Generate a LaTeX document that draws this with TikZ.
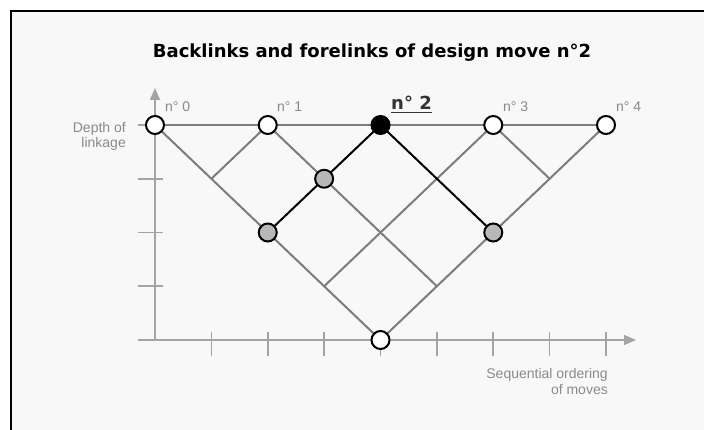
\documentclass[tikz,border=0pt]{standalone}
\usepackage{fontspec}
\setmainfont{Liberation Sans}
\newfontfamily\headfont{DejaVu Sans}
\usetikzlibrary{arrows.meta}
\definecolor{bggray}{HTML}{F8F8F8}
\definecolor{latgray}{HTML}{7C7C7C}
\definecolor{axgray}{HTML}{A4A4A4}
\definecolor{labgray}{HTML}{8A8A8A}
\definecolor{nodegray}{HTML}{B8B8B8}
\definecolor{headgray}{HTML}{333333}
\pgfdeclarelayer{back}
\pgfdeclarelayer{links}
\pgfsetlayers{back,links,main}
\begin{document}
\begin{tikzpicture}[x=1pt,y=-1pt,
  lattice/.style={draw=latgray,line width=2pt},
  hilite/.style={draw=black,line width=2pt},
  axisline/.style={draw=axgray,line width=1.6pt},
  tickmark/.style={draw=axgray,line width=1.6pt},
  move/.style={circle,draw=black,line width=2pt,fill=white,minimum size=18pt,inner sep=0pt},
  linked/.style={move,fill=nodegray},
  current/.style={move,fill=black},
  movelabel/.style={anchor=base west,inner sep=0pt,text=labgray,font=\fontsize{14}{16}\selectfont},
  axislabel/.style={anchor=base east,inner sep=0pt,text=labgray,font=\fontsize{14}{16}\selectfont},
  arrowtip/.style={-{Triangle[length=12pt,width=10pt]}}]
\useasboundingbox (0,0) rectangle (704,430);
\clip (0,0) rectangle (704,430);

% sheet and frame
\begin{pgfonlayer}{back}
  \fill[white] (0,0) rectangle (704,430);
  \filldraw[fill=bggray,draw=black,line width=2pt] (11,11) rectangle (740,460);
\end{pgfonlayer}

% title
\node[anchor=base,inner sep=0pt,font=\headfont\bfseries\fontsize{18}{22}\selectfont] (title)
  at (372,58) {Backlinks and forelinks of design move n°2};

% design moves along the top row
\node[move]    (n0) at (155,125) {};
\node[move]    (n1) at (267.75,125) {};
\node[current] (n2) at (380.5,125) {};
\node[move]    (n3) at (493.25,125) {};
\node[move]    (n4) at (606,125) {};

% link points (midpoint of two moves, depth = distance)
\coordinate (l01) at (211.375,178.75);
\coordinate (l03) at (324.125,286.25);
\coordinate (l14) at (436.875,286.25);
\coordinate (l34) at (549.625,178.75);
\node[linked] (l12) at (324.125,178.75) {};
\node[linked] (l02) at (267.75,232.5) {};
\node[linked] (l24) at (493.25,232.5) {};
\node[move]   (l04) at (380.5,340) {};

% axes
\coordinate (yfoot) at (155,340);
\coordinate (ytip)  at (155,88);
\coordinate (xfoot) at (138,340);
\coordinate (xtip)  at (636,340);

\begin{pgfonlayer}{links}
  \draw[axisline,arrowtip,draw=axgray,fill=axgray] (yfoot) -- (ytip);
  \draw[axisline,arrowtip,draw=axgray,fill=axgray] (xfoot) -- (xtip);
  \foreach \ty in {125,178.75,232.5,286.25}
    \draw[tickmark] (138,\ty) -- (163,\ty);
  \foreach \tx in {211.375,267.75,324.125,380.5,436.875,493.25,549.625,606}
    \draw[tickmark] (\tx,332) -- (\tx,356);

  % top row
  \draw[lattice] (n0) -- (n4);
  % forelinks (down-right)
  \draw[lattice] (n0.center) -- (l04);
  \draw[lattice] (n1) -- (l14);
  \draw[lattice] (n3) -- (l34);
  % backlinks (down-left)
  \draw[lattice] (n4.center) -- (l04);
  \draw[lattice] (n3) -- (l03);
  \draw[lattice] (n1) -- (l01);
  % links of move 2
  \draw[hilite] (n2) -- (l02);
  \draw[hilite] (n2) -- (l24);
\end{pgfonlayer}

% move labels
\node[movelabel] (t0) at (165,112) {n° 0};
\node[movelabel] (t1) at (277,112) {n° 1};
\node[anchor=base west,inner sep=0pt,text=headgray,font=\headfont\bfseries\fontsize{18}{22}\selectfont]
  (t2) at (391,110) {n° 2};
\draw[headgray,line width=1.8pt] ([yshift=-2.5pt]t2.base west) -- ([yshift=-2.5pt]t2.base east);
\node[movelabel] (t3) at (503,112) {n° 3};
\node[movelabel] (t4) at (616,112) {n° 4};

% axis captions
\node[axislabel] (dep1) at (126,133) {Depth of};
\node[axislabel] (dep2) at (126,148) {linkage};
\node[axislabel] (seq1) at (608,378) {Sequential ordering};
\node[axislabel] (seq2) at (608,394) {of moves};
\end{tikzpicture}
\end{document}
